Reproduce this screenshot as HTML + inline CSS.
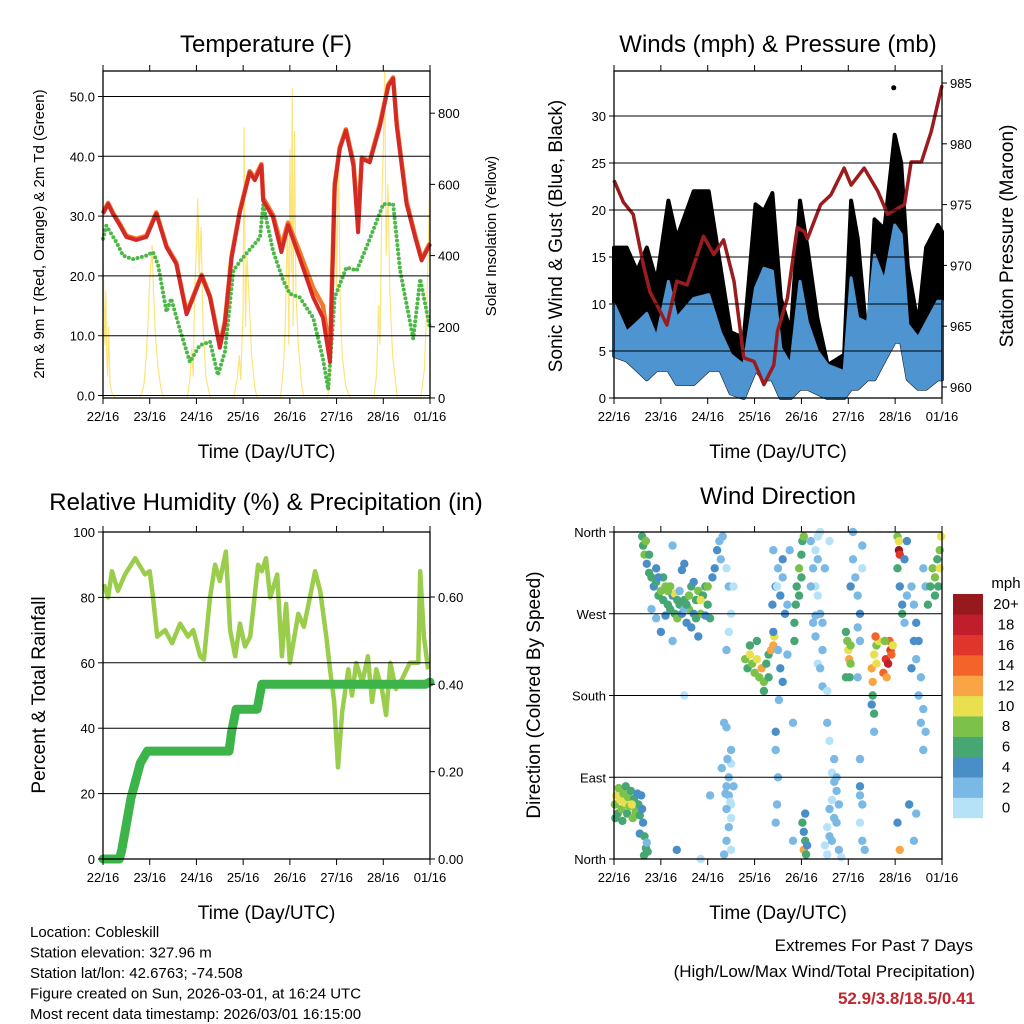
<!DOCTYPE html>
<html><head><meta charset="utf-8"><style>
html,body{margin:0;padding:0;background:#fff;}
svg{display:block;font-family:"Liberation Sans",sans-serif;}
</style></head><body>
<svg id="chart" width="1024" height="1024" viewBox="0 0 1024 1024" xmlns="http://www.w3.org/2000/svg">
<g id="layer-data"></g>
<g id="layer-axes"></g>
</svg>
<script>
// ---------- data ----------
const dayLabels = ["22/16","23/16","24/16","25/16","26/16","27/16","28/16","01/16"];
const tempTicks = [0,10,20,30,40,50];
const solarTicks = [0,200,400,600,800];
const windTicks = [0,5,10,15,20,25,30];
const presTicks = [960,965,970,975,980,985];
const rhTicks = [0,20,40,60,80,100];
const precipTicks = [0,0.2,0.4,0.6];
const dirTicks = [0,90,180,270,360];
const dirLabels = ["North","East","South","West","North"];
const speedBins = ["0","2","4","6","8","10","12","14","16","18","20+"];
const speedColors = ["#b6e2f8","#7ab8e6","#4a8ec8","#47a772","#7cc24a","#e8e04f","#f9a545","#f26429","#e0352b","#bf1e2a","#97191d"];

const tempDays = [0,0.11,0.21,0.36,0.5,0.71,0.93,1.14,1.36,1.57,1.79,1.93,2.11,2.29,2.5,2.61,2.75,2.93,3.14,3.25,3.39,3.43,3.64,3.82,3.96,4.21,4.5,4.71,4.86,4.96,5.07,5.2,5.36,5.46,5.54,5.71,5.93,6.11,6.21,6.29,6.5,6.68,6.82,7.0];
const tempRed = [30.4,32,30.4,28.5,26.5,26,26.5,30.4,24.8,22,13.6,16.4,20,16.4,8,12,23,30.7,37.3,36,38.5,32.6,29.8,24,28.5,23,16.4,13,5.6,35,41.3,44.3,38.5,27.3,39.6,39,45.1,51.8,53,45,32,26.5,22.6,25.3];
const tempOrange = [30.6,32.2,30.6,28.7,26.7,26.2,26.7,30.6,25,22.2,13.8,16.6,20.2,16.6,8.4,12.4,23.2,30.9,37.5,36.4,38.7,33,30.2,25,28.9,24,18,15,7,35.4,41.5,44.5,39,29,39.8,39.2,45.5,52,53.2,45.4,32.4,26.8,22.8,25.5];
const dewDays = [0,0.07,0.29,0.43,0.64,0.93,1.07,1.18,1.36,1.46,1.64,1.86,2.07,2.29,2.46,2.61,2.79,3.0,3.36,3.43,3.64,3.86,4.0,4.21,4.5,4.71,4.82,4.96,5.21,5.43,5.64,6.0,6.21,6.36,6.64,6.79,7.0];
const dewGreen = [26.2,28.4,25.6,23.4,22.8,23.4,24,21.8,14,16.2,11.2,5.6,8.4,9,3.4,7.3,20.9,23.1,26.4,31.9,24.2,19.2,17,16.4,13,6.1,1,16.4,21.4,20.9,24.8,32,32,20.9,9.5,19.5,11.2];
const solarDays = [0,0.02,0.04,0.06,0.08,0.1,0.12,0.15,0.2,0.27,0.8,0.88,0.92,0.96,1.0,1.03,1.05,1.08,1.12,1.18,1.25,1.3,1.8,1.86,1.9,1.93,1.96,2.0,2.03,2.06,2.1,2.14,2.2,2.3,2.8,2.88,2.92,2.95,3.0,3.02,3.05,3.08,3.12,3.18,3.25,3.3,3.8,3.86,3.9,3.95,3.98,4.0,4.03,4.05,4.07,4.1,4.13,4.18,4.25,4.3,4.8,4.85,4.88,4.92,4.97,5.0,5.04,5.08,5.12,5.2,5.3,5.8,5.86,5.9,5.93,5.97,6.0,6.03,6.06,6.1,6.14,6.2,6.3,6.8,6.88,6.93,6.97,7.0];
const solarVals = [400,280,150,300,120,60,200,40,10,0,0,40,110,200,330,380,430,300,180,80,20,0,0,50,140,60,300,420,560,350,480,200,60,0,0,60,120,50,250,760,200,400,300,120,30,0,0,80,200,500,150,700,350,870,200,750,300,150,40,0,0,30,120,180,640,300,690,250,120,30,0,0,70,260,150,560,700,920,400,600,300,120,0,0,80,250,450,650];

const windDays = [0,0.27,0.49,0.7,0.91,1.16,1.34,1.7,2.02,2.27,2.49,2.77,3.02,3.2,3.38,3.56,3.77,3.97,4.13,4.34,4.56,4.91,5.06,5.2,5.41,5.56,5.77,5.99,6.13,6.27,6.49,6.66,6.91,7.0];
const gustHi = [16,16,13.5,16,12.4,21,17,22,22,14,7,6.4,20.6,19.9,21.8,10.6,7,21,16,8.5,3.5,4.6,21,17,5.7,19,18,28,25,14,7.8,16,18.4,17.7];
const gustLo = [4.5,4,3,2,3,3,1.5,1.5,3,3,0.5,0,3,2,2,0,0,1,1,0.5,0,0,1,1,2,2,4,6,6,2,1,1,2,2];
const sonicHi = [10,7,8,9,6.4,12.4,8.5,10.6,11,7,4.6,3.5,11.7,13.8,13.5,5.3,3.5,12.4,8,5,3.5,2.8,12.8,8.5,8,15.2,12.4,18.4,17.4,7.8,6.4,8,10.3,10.3];
const sonicLo = [4.5,4,3,2,3,3,1.5,1.5,3,3,0.5,0,3,2,2,0,0,1,1,0.5,0,0,1,1,2,2,4,6,6,2,1,1,2,2];
const gustMaxDay = [5.97];
const gustMaxVal = [33];
const presDays = [0,0.2,0.41,0.63,0.77,0.99,1.13,1.34,1.56,1.91,2.13,2.34,2.56,2.77,2.99,3.2,3.41,3.49,3.7,3.91,4.06,4.13,4.41,4.63,4.91,5.06,5.34,5.63,5.84,6.06,6.2,6.34,6.56,6.77,7.0];
const presVals = [977,975.2,974.2,970,967.8,966.2,965.1,968.7,968.4,972.4,970.9,972.1,968.7,962.4,962.1,960.2,961.8,964.6,967.3,973.1,972.8,972.2,975,975.8,978,976.6,978,976.1,974.2,974.7,975,978.5,978.5,981,984.8];

const rhDays = [0.02,0.11,0.19,0.32,0.47,0.69,0.9,1.0,1.07,1.16,1.33,1.48,1.65,1.82,1.93,2.08,2.16,2.29,2.4,2.5,2.63,2.72,2.83,2.93,3.04,3.15,3.32,3.4,3.49,3.58,3.73,3.83,3.92,4.0,4.18,4.3,4.43,4.54,4.65,4.78,4.86,4.95,5.03,5.12,5.25,5.33,5.42,5.55,5.67,5.76,5.85,5.97,6.06,6.15,6.27,6.4,6.57,6.75,6.79,6.87,6.96];
const rhVals = [84,80,88,82,87,92,87,88,80,68,70,66,72,68,70,62,61,80,90,85,94,70,62,72,65,68,90,88,92,80,87,62,78,60,75,71,80,88,82,68,58,48,28,45,58,50,60,54,62,48,58,52,44,60,52,55,60,60,88,68,58];
const precipDays = [0,0.35,0.4,0.5,0.6,0.7,0.8,0.95,2.7,2.75,2.85,3.3,3.4,6.9,7.0];
const precipVals = [0,0,0.02,0.08,0.14,0.18,0.22,0.247,0.247,0.29,0.343,0.343,0.40,0.40,0.405];

const dirPoints = [
[0.02,60,8],[0.05,70,10],[0.08,50,7],[0.1,78,9],[0.13,65,10],[0.16,55,8],[0.2,72,9],[0.22,62,10],[0.25,80,7],[0.28,50,7],[0.3,68,9],[0.33,58,8],[0.36,75,7],[0.4,45,8],[0.43,66,7],[0.46,52,8],[0.5,72,5],[0.52,60,7],[0.55,48,6],[0.58,70,4],[0.6,55,5],[0.62,40,4],[0.03,45,6],[0.18,42,7],[0.38,60,10],
[0.55,28,4],[0.65,25,6],[0.68,12,7],[0.64,4,6],[0.72,8,7],[0.7,18,2],
[0.6,355,6],[0.62,345,7],[0.65,335,9],[0.68,350,8],[0.7,325,5],[0.75,315,6],[0.8,310,7],[0.85,300,4],[0.9,305,6],[0.95,290,7],[1.0,295,8],[1.05,285,6],[1.1,300,9],[1.15,280,7],[1.2,275,6],[1.25,290,5],[1.3,270,7],[1.35,265,8],[1.4,280,6],[1.45,270,5],[1.5,285,7],[1.55,260,4],[1.6,275,8],[1.65,300,7],[1.7,270,5],[1.75,285,6],[1.8,295,8],[1.85,270,9],[1.9,290,7],[1.95,300,6],[2.0,280,7],[2.05,265,6],[2.1,310,5],[2.15,320,4],[2.2,340,4],[2.25,350,3],[2.28,330,3],[1.2,300,8],[1.3,292,10],[1.6,290,9],[1.85,285,10],[0.9,320,4],[1.4,295,3],[1.0,250,4],[1.25,240,3],[1.8,245,4],[1.5,275,3],[1.1,268,4],[1.5,325,5],[0.8,275,3],[0.9,265,3],[1.65,255,5],[1.95,268,4],[1.25,345,3],[1.45,318,4],[1.7,305,4],[1.05,310,7],[1.15,295,8],[1.35,285,6],[1.55,280,7],[1.75,265,7],[2.0,300,8],[0.75,335,7],[0.95,310,5],
[2.32,355,2],[2.4,320,1],[2.45,300,2],[2.5,270,1],[2.55,300,1],[2.4,230,2],[2.45,250,1],[2.35,150,3],[2.4,145,2],[2.5,120,2],[2.5,105,1],[2.45,90,2],[2.4,80,2],[2.45,70,3],[2.5,60,1],[2.4,55,2],[2.5,45,1],[2.45,35,2],[2.4,20,2],[2.5,10,1],[2.35,5,2],[2.42,110,3],[2.55,80,2],[2.3,100,3],[2.05,70,3],[1.5,180,1],[1.34,10,4],[1.85,0,1],[2.48,63,1],[2.38,72,2],
[2.8,220,8],[2.85,210,7],[2.9,225,10],[2.95,215,9],[3.0,205,8],[3.05,220,10],[3.1,200,9],[3.15,210,12],[3.2,195,8],[3.25,215,7],[3.3,225,6],[3.35,230,13],[3.4,235,12],[3.42,245,10],[2.9,235,6],[3.05,240,7],[3.2,185,6],[3.3,200,7],
[3.38,280,4],[3.45,300,4],[3.5,320,3],[3.55,290,4],[3.6,310,3],[3.65,270,4],[3.4,250,4],[3.5,230,3],[3.55,210,4],[3.6,195,4],[3.52,175,3],[3.45,140,4],[3.45,120,2],[3.5,90,2],[3.48,60,2],[3.45,40,3],[3.7,280,2],[3.75,340,3],[3.6,330,4],[3.4,340,3],[3.48,300,1],[3.7,225,2],[3.82,150,2],[3.82,20,2],
[3.85,260,7],[3.88,280,6],[3.9,300,7],[3.95,320,8],[4.0,335,7],[4.02,350,7],[4.05,355,9],[4.0,310,6],[3.95,290,7],[3.85,240,6],
[4.02,40,6],[4.05,30,5],[4.08,20,6],[4.05,10,12],[4.1,5,7],[4.08,50,5],[4.12,15,4],
[4.2,350,2],[4.3,340,1],[4.35,355,1],[4.4,360,1],[4.25,320,2],[4.3,300,1],[4.35,290,1],[4.4,270,2],[4.45,260,3],[4.3,245,2],[4.45,230,2],[4.35,215,1],[4.5,320,2],[4.2,300,2],[4.6,350,1],[4.35,330,3],[4.45,190,3],[4.55,185,1],[4.3,268,3],[4.25,260,2],
[4.55,150,2],[4.6,130,1],[4.7,110,2],[4.65,95,1],[4.7,85,2],[4.75,75,2],[4.65,65,1],[4.6,55,2],[4.7,45,2],[4.55,35,1],[4.6,25,2],[4.5,15,1],[4.65,20,2],[4.75,40,2],[4.8,60,2],[4.75,90,3],[4.8,10,2],[4.55,5,1],[4.85,2,1],[4.4,210,2],
[4.95,250,6],[4.98,240,9],[5.0,230,10],[5.02,220,12],[5.05,215,9],[5.05,235,8],[4.95,200,7],[5.03,200,6],
[5.1,330,2],[5.15,310,2],[5.2,290,3],[5.25,270,4],[5.2,255,3],[5.25,240,2],[5.3,320,1],[5.3,345,2],[5.2,200,3],[5.25,110,2],[5.25,80,4],[5.3,60,2],[5.25,40,1],[5.3,20,3],[5.35,10,2],[5.25,70,2],[5.1,360,2],[5.05,300,4],
[5.5,210,12],[5.55,225,10],[5.6,235,9],[5.65,240,10],[5.52,195,13],[5.58,245,14],[5.6,215,10],[5.52,180,7],[5.55,160,6],[5.5,170,4],[5.55,140,3],
[5.75,205,15],[5.8,220,17],[5.85,215,19],[5.9,230,16],[5.88,240,14],[5.92,225,15],[5.82,200,12],[5.95,235,11],[5.78,240,9],
[6.05,355,8],[6.08,340,20],[6.1,335,17],[6.08,350,11],[6.05,320,6],[6.1,300,4],[6.15,280,4],[6.2,260,3],[6.25,290,2],[6.2,330,4],[6.25,350,4],[6.15,270,6],[6.1,10,13],[6.05,40,4],
[6.35,300,3],[6.4,280,2],[6.45,260,4],[6.5,240,4],[6.45,220,2],[6.55,200,2],[6.5,180,2],[6.6,165,2],[6.55,150,2],[6.65,140,2],[6.6,120,3],[6.35,210,4],[6.4,240,4],[6.6,320,3],[6.65,300,2],[6.3,60,4],[6.4,20,2],[6.45,50,2],
[6.7,280,6],[6.75,300,7],[6.8,320,8],[6.85,310,9],[6.9,330,6],[6.95,340,8],[6.98,355,10],[6.92,300,7],[6.85,290,6],[6.95,320,10]
];

// ---------- helpers ----------
const NS = "http://www.w3.org/2000/svg";
const dataLayer = document.getElementById("layer-data");
const axesLayer = document.getElementById("layer-axes");
function mk(tag, attrs, parent) {
  const e = document.createElementNS(NS, tag);
  for (const k in attrs) e.setAttribute(k, attrs[k]);
  (parent || dataLayer).appendChild(e);
  return e;
}
function txt(str, x, y, size, anchor, parent, extra) {
  const t = mk("text", Object.assign({x: x, y: y, "font-size": size, "text-anchor": anchor || "middle", fill: "#000"}, extra || {}), parent || axesLayer);
  t.textContent = str;
  return t;
}
const P1 = {x0:103, x1:430, y0:71, y1:398};
const P2 = {x0:614, x1:942, y0:71, y1:398};
const P3 = {x0:103, x1:430, y0:532, y1:859};
const P4 = {x0:614, x1:942, y0:532, y1:859};
function xs(p, d) { return p.x0 + d / 7 * (p.x1 - p.x0); }
const yTemp = v => 395.5 - v * 5.98;
const ySolar = v => 398 - v * 0.356;
const yWind = v => 398 - v * 9.4;
const yPres = v => 387 - (v - 960) * 12.16;
const yRh = v => 859 - v * 3.27;
const yPrecip = v => 859 - v * 436.7;
const yDir = v => 859 - v * 327 / 360;

function linePts(p, days, vals, yf) {
  return days.map((d, i) => xs(p, d).toFixed(1) + "," + yf(vals[i]).toFixed(1)).join(" ");
}

function frame(p, name, leftVals, leftY, leftFmt, rightVals, rightY, rightFmt, gridVals, gridY) {
  const g = mk("g", {}, axesLayer);
  
  
  gridVals.forEach(v => {
    const l = mk("line", {x1: p.x0, x2: p.x1, y1: gridY(v), y2: gridY(v), stroke: "#000", "stroke-width": 1}, g);
    
    
  });
  const r = mk("rect", {x: p.x0, y: p.y0, width: p.x1 - p.x0, height: p.y1 - p.y0, fill: "none", stroke: "#000", "stroke-width": 1.3}, g);
  
  
  dayLabels.forEach((lab, i) => {
    const x = xs(p, i);
    mk("line", {x1: x, x2: x, y1: p.y1, y2: p.y1 + 6, stroke: "#000", "stroke-width": 1}, g);
    mk("line", {x1: x, x2: x, y1: p.y0, y2: p.y0 - 6, stroke: "#000", "stroke-width": 1}, g);
    const t = txt(lab, x, p.y1 + 23, 13, "middle", g);
    
    
  });
  leftVals.forEach((v, i) => {
    const y = leftY(v);
    mk("line", {x1: p.x0, x2: p.x0 - 5, y1: y, y2: y, stroke: "#000", "stroke-width": 1}, g);
    const t = txt(leftFmt(v, i), p.x0 - 8, y + 5, 13, "end", g);
    
    
  });
  if (rightVals) rightVals.forEach(v => {
    const y = rightY(v);
    mk("line", {x1: p.x1, x2: p.x1 + 5, y1: y, y2: y, stroke: "#000", "stroke-width": 1}, g);
    const t = txt(rightFmt(v), p.x1 + 8, y + 5, 13, "start", g);
    
    
  });
  const xt = txt("Time (Day/UTC)", (p.x0 + p.x1) / 2, p.y1 + 60, 19, "middle", g);
  
  
}

// ---------- Panel 1: Temperature ----------
const solar = mk("polyline", {points: linePts(P1, solarDays, solarVals, ySolar), fill: "none", stroke: "#fde47a", "stroke-width": 1.2});


const dew = mk("polyline", {points: linePts(P1, dewDays, dewGreen, yTemp), fill: "none", stroke: "#4db848", "stroke-width": 4, "stroke-dasharray": "0 4.5", "stroke-linecap": "round"});


const tor = mk("polyline", {points: linePts(P1, tempDays, tempOrange, yTemp), fill: "none", stroke: "#f37a2a", "stroke-width": 4.5, "stroke-linejoin": "round"});


const tred = mk("polyline", {points: linePts(P1, tempDays, tempRed, yTemp), fill: "none", stroke: "#d42a26", "stroke-width": 4, "stroke-linejoin": "round"});


frame(P1, "temperature", tempTicks, yTemp, v => v.toFixed(1), solarTicks, ySolar, v => String(v), tempTicks, yTemp);

// ---------- Panel 2: Winds ----------
function band(p, days, lo, hi, yf) {
  const up = days.map((d, i) => xs(p, d).toFixed(1) + "," + yf(hi[i]).toFixed(1));
  const dn = days.map((d, i) => xs(p, d).toFixed(1) + "," + yf(lo[i]).toFixed(1)).reverse();
  return up.concat(dn).join(" ");
}
const gb = mk("polygon", {points: band(P2, windDays, gustLo, gustHi, yWind), fill: "#000", stroke: "#000", "stroke-width": 4, "stroke-linejoin": "round"});


gustMaxDay.forEach((d, i) => {
  const c = mk("circle", {cx: xs(P2, d), cy: yWind(gustMaxVal[i]), r: 2.5, fill: "#000"});
  
  
});
const sb = mk("polygon", {points: band(P2, windDays, sonicLo, sonicHi, yWind), fill: "#4d94d0", stroke: "#4d94d0", "stroke-width": 3, "stroke-linejoin": "round"});


const pl = mk("polyline", {points: linePts(P2, presDays, presVals, yPres), fill: "none", stroke: "#9b1c1f", "stroke-width": 3.5, "stroke-linejoin": "round"});


frame(P2, "winds", windTicks, yWind, v => String(v), presTicks, yPres, v => String(v), windTicks.slice(1), yWind);

// ---------- Panel 3: RH & precip ----------
const rh = mk("polyline", {points: linePts(P3, rhDays, rhVals, yRh), fill: "none", stroke: "#9acd4c", "stroke-width": 4.5, "stroke-linejoin": "round"});


const pr = mk("polyline", {points: linePts(P3, precipDays, precipVals, yPrecip), fill: "none", stroke: "#3cb44a", "stroke-width": 9, "stroke-linejoin": "round", "stroke-linecap": "round"});


frame(P3, "humidity", rhTicks, yRh, v => String(v), precipTicks, yPrecip, v => v.toFixed(2), rhTicks.slice(1, 5), yRh);

// ---------- Panel 4: Wind direction ----------
dirPoints.forEach(pt => {
  const bin = Math.min(10, Math.floor(pt[2] / 2));
  const c = mk("circle", {cx: xs(P4, pt[0]).toFixed(1), cy: yDir(pt[1]).toFixed(1), r: 4.2, fill: speedColors[bin]});
  
  
});
frame(P4, "wind-direction", dirTicks, yDir, (v, i) => dirLabels[i], null, null, null, dirTicks.slice(1, 4), yDir);

// colorbar
const cb = mk("g", {}, axesLayer);


speedBins.forEach((lab, i) => {
  const y = 818 - (i + 1) * 20.36;
  const r = mk("rect", {x: 953, y: y.toFixed(1), width: 30, height: 20.6, fill: speedColors[i]}, cb);
  
  
  const t = txt(lab, 1006, y + 15, 15, "middle", cb);
  
  
});
const mph = txt("mph", 1006, 588, 15, "middle", cb);



// ---------- titles ----------
function title(s, x, y, size, name, rot) {
  const t = txt(s, x, y, size, "middle", axesLayer, rot ? {transform: "rotate(-90 " + x + " " + y + ")"} : {});
  
  
}
title("Temperature (F)", 266, 52, 24, "temperature-title");
title("Winds (mph) & Pressure (mb)", 778, 52, 24, "winds-title");
title("Relative Humidity (%) & Precipitation (in)", 266, 510, 24, "humidity-title");
title("Wind Direction", 778, 504, 24, "wind-direction-title");
title("2m & 9m T (Red, Orange) & 2m Td (Green)", 44, 234, 15, "temperature-y-axis-title", true);
title("Solar Insolation (Yellow)", 496, 236, 15, "solar-y-axis-title", true);
title("Sonic Wind & Gust (Blue, Black)", 562, 236, 19, "wind-y-axis-title", true);
title("Station Pressure (Maroon)", 1013, 236, 19, "pressure-y-axis-title", true);
title("Percent & Total Rainfall", 45, 695, 19, "humidity-y-axis-title", true);
title("Direction (Colored By Speed)", 540, 695, 19, "direction-y-axis-title", true);

// ---------- footer text ----------
const info = ["Location: Cobleskill","Station elevation: 327.96 m","Station lat/lon: 42.6763; -74.508","Figure created on Sun, 2026-03-01, at 16:24 UTC","Most recent data timestamp: 2026/03/01 16:15:00"];
info.forEach((s, i) => {
  const t = txt(s, 30, 937 + i * 20.5, 15, "start");
  
  
});
const e1 = txt("Extremes For Past 7 Days", 973, 951, 17, "end");


const e2 = txt("(High/Low/Max Wind/Total Precipitation)", 975, 977, 17, "end");


const e3 = txt("52.9/3.8/18.5/0.41", 975, 1004, 17, "end", axesLayer, {fill: "#c1272d", "font-weight": "bold"});


</script>
</body></html>
